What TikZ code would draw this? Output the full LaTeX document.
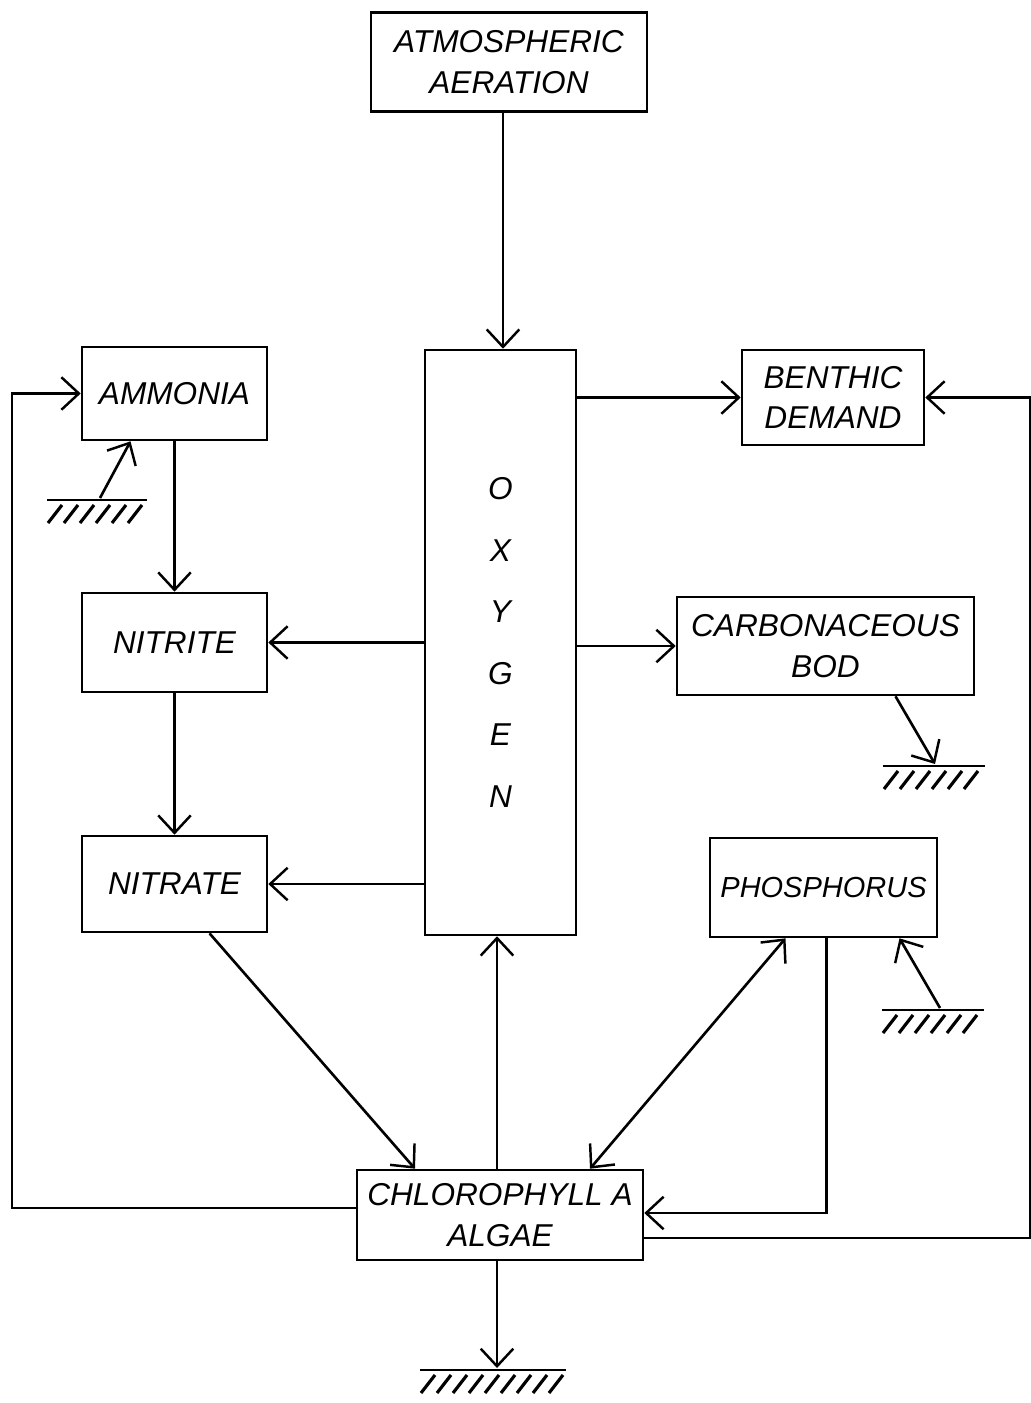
\documentclass[tikz,border=0pt]{standalone}
\usepackage{fontspec}
\setmainfont{Liberation Sans}
\usetikzlibrary{arrows.meta,calc}

\begin{document}
\begin{tikzpicture}[x=0.02cm, y=-0.02cm, line width=1.5pt]
		% Styles for the boxes and the arrows
		\tikzset{
			box/.style={draw, rectangle, inner sep=0pt, font=\fontsize{18}{23}\selectfont\itshape, align=center},
			arr/.style={-{Straight Barb[length=3.5mm, width=6.5mm, line width=1.4pt]}},
			dblarr/.style={{Straight Barb[length=3.5mm, width=6.5mm, line width=1.4pt]}-{Straight Barb[length=3.5mm, width=6.5mm, line width=1.4pt]}},
			pics/earth/.style={code={
				\draw (-#1,0) -- (#1,0);
				\pgfmathtruncatemacro\nhatch{2*#1/16}
				\foreach \k in {1,...,\nhatch}
					\draw[line width=1.8pt] ({-#1+16*\k-1},5) -- ++(-14,18);
			}}
		}
		\useasboundingbox (0,0) rectangle (1031,1403);
		
		% --- Boxes ---
		\node[box, minimum width=5.52cm, minimum height=1.98cm] (aer) at (509,62) {ATMOSPHERIC\\AERATION};
		\node[box, minimum width=3.02cm, minimum height=11.7cm, font=\fontsize{18}{35}\selectfont\itshape] (oxy) at (500.5,642.5) {O\\X\\Y\\G\\E\\N};
		\node[box, minimum width=3.7cm, minimum height=1.86cm] (amm) at (174.5,393.5) {AMMONIA};
		\node[box, minimum width=3.64cm, minimum height=1.9cm] (ben) at (833,397.5) {BENTHIC\\DEMAND};
		\node[box, minimum width=3.7cm, minimum height=1.98cm] (nitri) at (174.5,642.5) {NITRITE};
		\node[box, minimum width=5.94cm, minimum height=1.96cm] (carb) at (825.5,646) {CARBONACEOUS\\BOD};
		\node[box, minimum width=3.7cm, minimum height=1.92cm] (nitra) at (174.5,884) {NITRATE};
		\node[box, minimum width=4.54cm, minimum height=1.98cm, font=\fontsize{16.5}{20}\selectfont\itshape] (phos) at (823.5,887.5) {PHOSPHORUS};
		\node[box, minimum width=5.72cm, minimum height=1.8cm] (alg) at (500,1215) {CHLOROPHYLL A\\ALGAE};
		
		% --- Ground symbols ---
		\coordinate (g1) at (100,498);
		\coordinate (g2) at (935,764);
		\coordinate (g3) at (940,1008);
		\coordinate (g4) at (497,1368);
		\pic at (97,500) {earth=50};
		\pic at (934,766) {earth=51};
		\pic at (933,1010) {earth=51};
		\pic at (493,1370) {earth=73};
		
		% Corners of the two feedback loops
		\coordinate (lcorner) at (12,1208);
		\coordinate (rcorner) at (1030,1238);
		
		% --- Connectors ---
		\draw[arr] (aer.south -| 503,0) -- (oxy.north -| 503,0);
		\draw[arr] (oxy.east |- ben.west) -- (ben.west);
		\draw[arr] (oxy.west |- nitri.east) -- (nitri.east);
		\draw[arr] (oxy.east |- carb.west) -- (carb.west);
		\draw[arr] (oxy.west |- nitra.east) -- (nitra.east);
		\draw[arr] (amm.south) -- (nitri.north);
		\draw[arr] (nitri.south) -- (nitra.north);
		\draw[arr] (alg.north -| 497,0) -- (oxy.south -| 497,0);
		\draw[arr] ($(nitra.south)+(35,0)$) -- ($(alg.north)+(-85,0)$);
		\draw[dblarr] ($(phos.south)+(-38,0)$) -- ($(alg.north)+(90,0)$);
		\draw[arr] ($(phos.south)+(3,0)$) |- ($(alg.east)+(0,-2)$);
		\draw[arr] ($(alg.west)+(0,-7)$) -- (lcorner) |- (amm.west);
		\draw[arr] ($(alg.east)+(0,23)$) -- (rcorner) |- (ben.east);
		
		% Sources and sinks
		\draw[arr] (g1) -- ($(amm.south)+(-44,0)$);
		\draw[arr] ($(carb.south)+(70,0)$) -- (g2);
		\draw[arr] (g3) -- ($(phos.south)+(76,0)$);
		\draw[arr] (alg.south -| 497,0) -- (g4);
		
	\end{tikzpicture}
\end{document}
